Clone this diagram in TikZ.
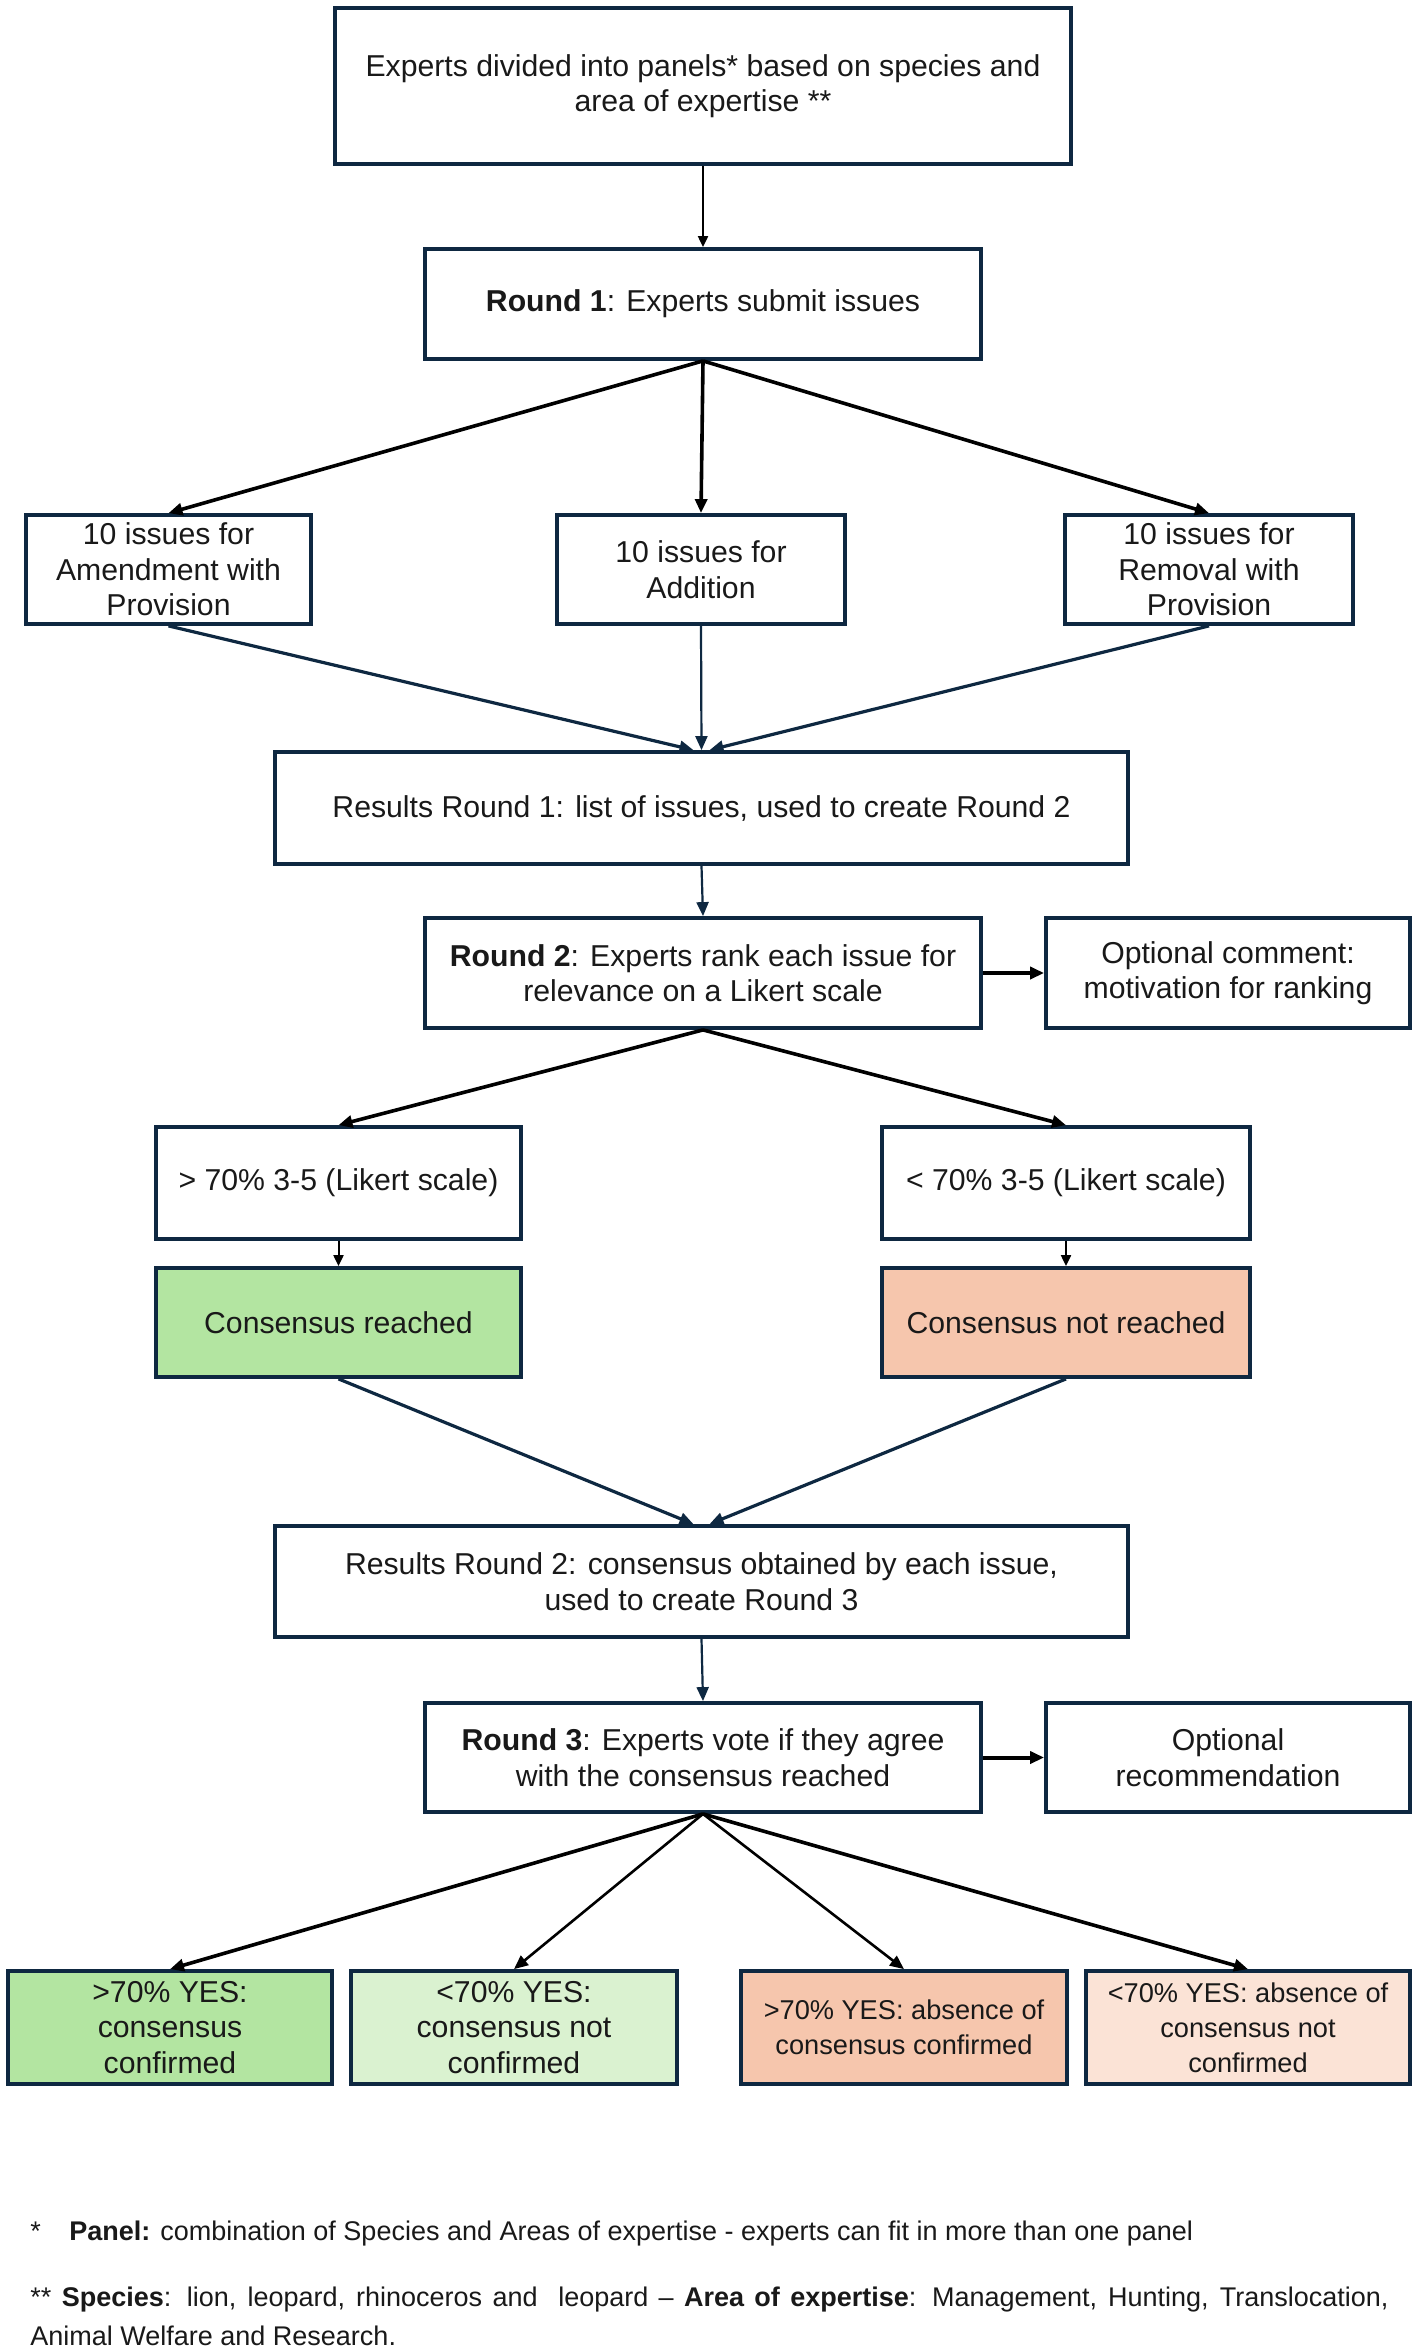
\documentclass[tikz,border=0pt]{standalone}
\usepackage{fontspec}
\setmainfont{Liberation Sans}
\usetikzlibrary{arrows.meta}
\definecolor{navy}{HTML}{0E2841}
\definecolor{gA}{HTML}{B3E5A1}
\definecolor{gB}{HTML}{DAF2D0}
\definecolor{oA}{HTML}{F6C6AD}
\definecolor{oB}{HTML}{FBE3D6}
\tikzset{
 box/.style={draw=navy, line width=1.9pt, fill=white, align=center, inner sep=2pt, font=\fontsize{15.1}{17.8}\selectfont, text=black!90},
 smalltext/.style={font=\fontsize{13.6}{17.5}\selectfont},
 arr/.style={-{Triangle[length=7pt,width=6pt]}, line width=1.8pt, black},
 arrthin/.style={-{Triangle[length=5.5pt,width=5pt]}, line width=1pt, black},
 narr/.style={-{Triangle[length=7pt,width=6pt]}, line width=1.6pt, navy},
 fnote/.style={anchor=west, inner sep=0pt, font=\fontsize{13.5}{16.5}\selectfont, text=black!90},
}
\begin{document}
\begin{tikzpicture}[x=0.5pt,y=-0.5pt]
\useasboundingbox[fill=white] (0,0) rectangle (1418,2351);
% boxes
\node[box, minimum width=368pt, minimum height=78pt] (top) at (703,86) {Experts divided into panels* based on species and\\area of expertise **};
\node[box, minimum width=278pt, minimum height=55pt] (r1) at (703,304) {\textbf{Round 1}: Experts submit issues};
\node[box, minimum width=142.5pt, minimum height=54.5pt] (am) at (168.5,569.5) {10 issues for\\Amendment with\\Provision};
\node[box, minimum width=144pt, minimum height=54.5pt] (ad) at (701,569.5) {10 issues for\\Addition};
\node[box, minimum width=144pt, minimum height=54.5pt] (rm) at (1209,569.5) {10 issues for\\Removal with\\Provision};
\node[box, minimum width=426.5pt, minimum height=56pt] (res1) at (701.5,808) {Results Round 1: list of issues, used to create Round 2};
\node[box, minimum width=278pt, minimum height=55pt] (r2) at (703,973) {\textbf{Round 2}: Experts rank each issue for\\relevance on a Likert scale};
\node[box, minimum width=182pt, minimum height=55pt] (op1) at (1228,973) {Optional comment:\\motivation for ranking};
\node[box, minimum width=182.5pt, minimum height=56pt] (gt) at (338.5,1183) {> 70\% 3-5 (Likert scale)};
\node[box, minimum width=184pt, minimum height=56pt] (lt) at (1066,1183) {< 70\% 3-5 (Likert scale)};
\node[box, fill=gA, minimum width=182.5pt, minimum height=54.5pt] (cr) at (338.5,1322.5) {Consensus reached};
\node[box, fill=oA, minimum width=184pt, minimum height=54.5pt] (cnr) at (1066,1322.5) {Consensus not reached};
\node[box, minimum width=426.5pt, minimum height=55.5pt] (res2) at (701.5,1581.5) {Results Round 2: consensus obtained by each issue,\\used to create Round 3};
\node[box, minimum width=278pt, minimum height=54.5pt] (r3) at (703,1757.5) {\textbf{Round 3}: Experts vote if they agree\\with the consensus reached};
\node[box, minimum width=182pt, minimum height=54.5pt] (op2) at (1228,1757.5) {Optional\\recommendation};
\node[box, fill=gA, minimum width=162pt, minimum height=56.5pt] (b1) at (170,2027.5) {>70\% YES:\\consensus\\confirmed};
\node[box, fill=gB, minimum width=163pt, minimum height=56.5pt] (b2) at (514,2027.5) {<70\% YES:\\consensus not\\confirmed};
\node[box, smalltext, fill=oA, minimum width=163pt, minimum height=56.5pt] (b3) at (904,2027.5) {>70\% YES: absence of\\consensus confirmed};
\node[box, smalltext, fill=oB, minimum width=162pt, minimum height=56.5pt] (b4) at (1248,2027.5) {<70\% YES: absence of\\consensus not\\confirmed};
% connectors
\draw[arrthin] (top.south) -- (r1.north);
\draw[arr] (r1.south) -- (am.north);
\draw[arr] (r1.south) -- (ad.north);
\draw[arr] (r1.south) -- (rm.north);
\coordinate (m1l) at ([xshift=-4pt]res1.north);
\coordinate (m1r) at ([xshift=4pt]res1.north);
\draw[narr] (am.south) -- (m1l);
\draw[narr, line width=1.1pt] (ad.south) -- (res1.north);
\draw[narr] (rm.south) -- (m1r);
\draw[narr, line width=1.1pt] (res1.south) -- (r2.north);
\draw[arr, line width=2pt] (r2.east) -- (op1.west);
\draw[arr] (r2.south) -- (gt.north);
\draw[arr] (r2.south) -- (lt.north);
\draw[arrthin] (gt.south) -- (cr.north);
\draw[arrthin] (lt.south) -- (cnr.north);
\coordinate (m2l) at ([xshift=-4pt]res2.north);
\coordinate (m2r) at ([xshift=4pt]res2.north);
\draw[narr] (cr.south) -- (m2l);
\draw[narr] (cnr.south) -- (m2r);
\draw[narr, line width=1.1pt] (res2.south) -- (r3.north);
\draw[arr, line width=2pt] (r3.east) -- (op2.west);
\draw[arr] (r3.south) -- (b1.north);
\draw[arr, line width=1.3pt] (r3.south) -- (b2.north);
\draw[arr, line width=1.3pt] (r3.south) -- (b3.north);
\draw[arr] (r3.south) -- (b4.north);
% footnotes
\node[fnote] (fn1) at (30,2233) {\makebox[19.5pt][l]{*}\textbf{Panel:} combination of Species and Areas of expertise - experts can fit in more than one panel};
\node[fnote] (fn2) at (30,2299) {\makebox[679pt][s]{** \textbf{Species}: lion, leopard, rhinoceros and\ \ leopard – \textbf{Area of expertise}: Management, Hunting, Translocation,}};
\node[fnote] (fn3) at (30,2336) {Animal Welfare and Research.};
\end{tikzpicture}
\end{document}
